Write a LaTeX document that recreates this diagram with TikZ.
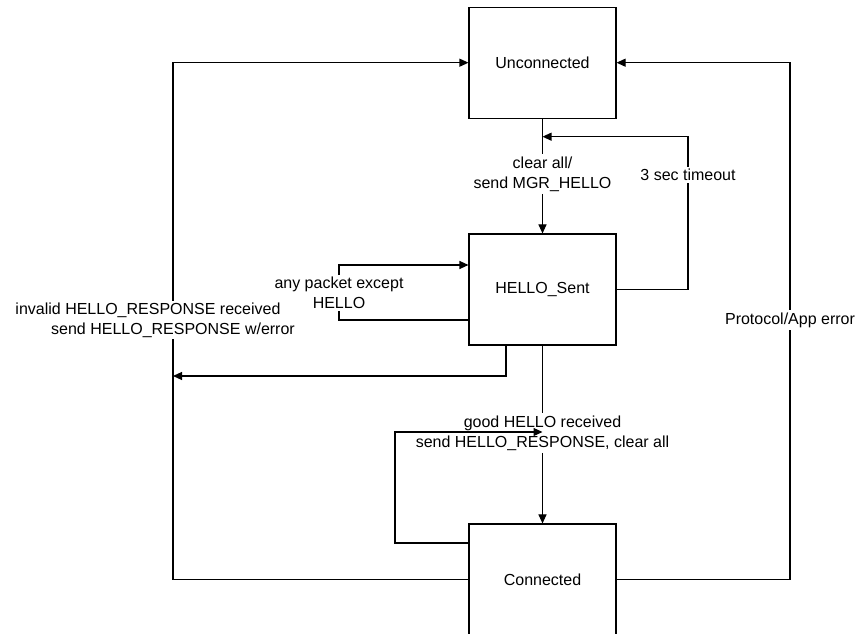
\documentclass[tikz,border=0pt]{standalone}
\usepackage{fontspec}
\setmainfont{Liberation Sans}
\usetikzlibrary{arrows.meta}

\begin{document}
\begin{tikzpicture}
[x=1pt,y=1pt,>={Triangle[length=9pt,width=8pt]},line width=1.1pt,
font=\fontsize{16}{20}\selectfont,
state/.style={draw,minimum width=147pt,minimum height=111pt,inner sep=0pt},
lbl/.style={fill=white,align=center,inner sep=2pt},]

\useasboundingbox (0,0) rectangle (859,634);

\node (unc) at (542.5,571.3)[state]{Unconnected};
\node (sent) at (542.5,344.5)[state]{HELLO\_Sent};
\node (conn) at (542.5,54.5)[state]{Connected};

\node (lclear) at (542.5,460)[lbl]{clear all/\\send MGR\_HELLO};
\node (ltmo) at (688,459)[lbl]{3 sec timeout};
\node (lany) at (339,341)[lbl]{any packet except\\HELLO};
\node (lgood) at (542.5,201)[lbl]{good HELLO received\\send HELLO\_RESPONSE, clear all};
\node (lproto) at (790,314)[lbl]{Protocol/App error};

\coordinate (tjoin) at (542.5,497.3);
\coordinate (ljoin) at (173,258);
\coordinate (ltc) at (173,571.3);
\coordinate (cloop) at (395,202);
\coordinate (gjoin) at (542.5,202);

\draw (unc.south) -- (lclear);
\draw[->] (lclear) -- (sent.north);
\draw (sent.east) -| (ltmo);
\draw[->] (ltmo) |- (tjoin);

\draw ([yshift=-30.5pt]sent.west) -| (lany);
\draw[->] (lany) |- ([yshift=24.5pt]sent.west);

\draw[->] ([xshift=-36.5pt]sent.south) |- (ljoin);
\draw[->] (conn.west) -| (ltc) -- (unc.west);
%\draw (173,297) -- (173,342);
\node (linv) at (160.5,314)[lbl]{invalid HELLO\_RESPONSE received\hspace*{25pt}\\\hspace*{25pt}send HELLO\_RESPONSE w/error};

\draw (sent.south) -- (lgood);
\draw[->] (lgood) -- (conn.north);
\draw[->] ([yshift=36.5pt]conn.west) -| (cloop) -- (gjoin);

\draw (conn.east) -| (lproto);
\draw[->] (lproto) |- (unc.east);

\end{tikzpicture}
\end{document}
